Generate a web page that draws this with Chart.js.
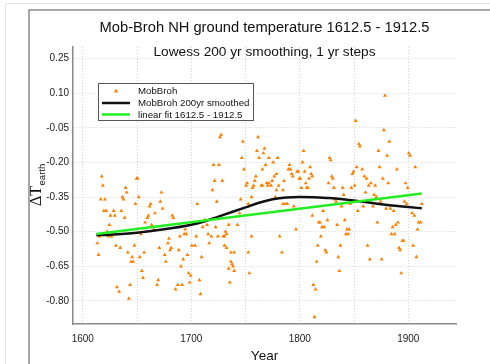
<!DOCTYPE html>
<html><head><meta charset="utf-8">
<script src="https://cdn.jsdelivr.net/npm/chart.js@4.4.1/dist/chart.umd.min.js"></script>
<style>html,body{margin:0;padding:0;background:#fff;}#wrap{width:490px;height:364px;position:relative}</style>
</head><body><div id="wrap"><canvas id="c" width="490" height="364"></canvas></div>
<script>
const years = [1613.5,1614.5,1615.5,1616.5,1617.5,1618.5,1619.5,1620.5,1621.5,1622.5,1623.5,1624.5,1625.5,1626.5,1628.5,1629.5,1630.5,1631.5,1633.5,1634.5,1635.5,1636.5,1637.5,1638.5,1639.5,1640.5,1641.5,1642.5,1643.5,1644.5,1645.5,1646.5,1647.5,1648.5,1649.5,1650.5,1651.5,1652.5,1653.5,1654.5,1655.5,1656.5,1657.5,1659.5,1660.5,1661.5,1662.5,1663.5,1665.5,1666.5,1668.5,1669.5,1670.5,1671.5,1672.5,1673.5,1675.5,1676.5,1678.5,1679.5,1680.5,1681.5,1682.5,1683.5,1685.5,1687.5,1688.5,1689.5,1690.5,1691.5,1692.5,1693.5,1694.5,1695.5,1696.5,1697.5,1698.5,1699.5,1700.5,1703.5,1704.5,1705.5,1707.5,1708.5,1709.5,1710.5,1712.5,1714.5,1715.5,1716.5,
1718.5,1719.5,1720.5,1721.5,1722.5,1723.5,1724.5,1725.5,1726.5,1727.5,1728.5,1729.5,1730.5,1730.5,1731.5,1732.5,1732.5,1734.5,1734.5,1735.5,1736.5,1736.5,1737.5,1738.5,1739.5,1739.5,1742.5,1744.5,1745.5,1746.5,1747.5,1748.5,1750.5,1751.5,1752.5,1752.5,1753.5,1755.5,1755.5,1756.5,1757.5,1758.5,1759.5,1760.5,1761.5,1762.5,1764.5,1765.5,1765.5,1766.5,1767.5,1768.5,1769.5,1770.5,1771.5,1771.5,1773.5,1774.5,1775.5,1776.5,1777.5,1778.5,1778.5,1779.5,1780.5,1781.5,1783.5,1784.5,1784.5,1785.5,1786.5,1788.5,1789.5,1790.5,1791.5,1792.5,1793.5,1794.5,1796.5,1797.5,1798.5,1799.5,1800.5,1801.5,1802.5,1803.5,1804.5,1805.5,1806.5,1807.5,1808.5,1809.5,1810.5,1811.5,1811.5,1812.5,1813.5,1814.5,1815.5,1816.5,1817.5,1818.5,
1819.5,1820.5,1821.5,1822.5,1823.5,1824.5,1825.5,1826.5,1827.5,1828.5,1829.5,1830.5,1831.5,1832.5,1833.5,1834.5,1835.5,1836.5,1837.5,1838.5,1839.5,1840.5,1841.5,1842.5,1843.5,1844.5,1845.5,1846.5,1847.5,1848.5,1849.5,1850.5,1851.5,1852.5,1853.5,1854.5,1855.5,1857.5,1858.5,1859.5,1860.5,1861.5,1862.5,1863.5,1864.5,1865.5,1867.5,1868.5,1869.5,1870.5,1871.5,1872.5,1873.5,1874.5,1875.5,1876.5,1877.5,1878.5,1879.5,1880.5,1881.5,1882.5,1883.5,1884.5,1885.5,1886.5,1887.5,1888.5,1889.5,1890.5,1891.5,1892.5,1893.5,1894.5,1895.5,1896.5,1897.5,1898.5,1899.5,1900.5,1901.5,1903.5,1904.5,1905.5,1906.5,1907.5,1908.5,1909.5,1911.5,1912.5];
const values = [-0.55,-0.60,-0.52,-0.36,-0.26,-0.30,-0.41,-0.36,-0.41,-0.50,-0.52,-0.47,-0.43,-0.52,-0.41,-0.43,-0.56,-0.74,-0.76,-0.57,-0.41,-0.35,-0.36,-0.44,-0.31,-0.33,-0.59,-0.79,-0.73,-0.63,-0.61,-0.63,-0.56,-0.38,-0.27,-0.27,-0.35,-0.61,-0.51,-0.67,-0.70,-0.59,-0.46,-0.44,-0.43,-0.39,-0.38,-0.47,-0.49,-0.42,-0.73,-0.71,-0.57,-0.37,-0.33,-0.40,-0.60,-0.63,-0.55,-0.53,-0.58,-0.57,-0.43,-0.44,-0.75,-0.73,-0.58,-0.52,-0.65,-0.73,-0.62,-0.51,-0.49,-0.51,-0.60,-0.68,-0.72,-0.69,-0.56,-0.56,-0.52,-0.38,-0.71,-0.77,-0.61,-0.48,-0.45,-0.47,-0.51,-0.55,
-0.52,-0.32,-0.21,-0.28,-0.48,-0.37,-0.52,-0.21,-0.09,-0.08,-0.28,-0.52,-0.52,-0.56,-0.50,-0.51,-0.57,-0.47,-0.66,-0.72,-0.63,-0.59,-0.64,-0.65,-0.59,-0.67,-0.47,-0.42,-0.36,-0.18,-0.11,-0.23,-0.30,-0.29,-0.38,-0.59,-0.68,-0.52,-0.35,-0.31,-0.30,-0.28,-0.26,-0.15,-0.09,-0.18,-0.30,-0.30,-0.23,-0.16,-0.14,-0.21,-0.29,-0.30,-0.18,-0.29,-0.30,-0.28,-0.20,-0.26,-0.35,-0.32,-0.25,-0.18,-0.30,-0.52,-0.59,-0.32,-0.38,-0.28,-0.38,-0.38,-0.23,-0.21,-0.23,-0.25,-0.26,-0.39,-0.49,-0.24,-0.24,-0.27,-0.27,-0.31,-0.20,-0.15,-0.24,-0.29,-0.31,-0.31,-0.27,-0.22,-0.25,-0.26,-0.43,-0.73,-0.87,-0.75,-0.63,-0.56,-0.46,-0.46,
-0.52,-0.48,-0.41,-0.48,-0.58,-0.59,-0.45,-0.29,-0.18,-0.19,-0.26,-0.27,-0.31,-0.36,-0.37,-0.47,-0.61,-0.67,-0.56,-0.39,-0.31,-0.34,-0.45,-0.51,-0.49,-0.51,-0.49,-0.38,-0.31,-0.25,-0.24,-0.30,-0.02,-0.22,-0.41,-0.12,-0.13,-0.23,-0.39,-0.26,-0.33,-0.27,-0.56,-0.30,-0.62,-0.29,-0.39,-0.34,-0.30,-0.35,-0.46,-0.15,-0.22,-0.37,-0.62,-0.27,-0.06,0.09,-0.40,-0.17,-0.29,-0.11,-0.40,-0.51,-0.48,-0.41,-0.51,-0.47,-0.23,-0.46,-0.57,-0.58,-0.68,-0.54,-0.54,-0.37,-0.29,-0.38,-0.31,-0.16,-0.17,-0.42,-0.56,-0.43,-0.22,-0.61,-0.49,-0.46,-0.46,-0.38];
const smoothYears = [1612.5,1625,1650,1675,1700,1712.5,1725,1737.5,1750,1762.5,1775,1787.5,1800,1812.5,1825,1837.5,1850,1862.5,1875,1887.5,1900,1912.5];
const smoothValues = [-0.515,-0.513,-0.505,-0.49,-0.47,-0.455,-0.435,-0.415,-0.395,-0.375,-0.36,-0.352,-0.350,-0.351,-0.354,-0.358,-0.365,-0.373,-0.381,-0.388,-0.393,-0.399];
const fitYears = [1612.5, 1912.5];
const fitValues = [-0.51, -0.335];
const xTicks = [1600,1650,1700,1750,1800,1850,1900];
const xLabelTicks = [1600,1700,1800,1900];
const yTicks = [-0.80,-0.65,-0.50,-0.35,-0.20,-0.05,0.10,0.25];
const titleText = 'Mob-Broh NH ground temperature 1612.5 - 1912.5';
const subtitleText = 'Lowess 200 yr smoothing, 1 yr steps';
const seriesLabels = ['MobBroh','MobBroh 200yr smoothed','linear fit 1612.5 - 1912.5'];
const xTitle = 'Year';

const SANS = '"Liberation Sans", Arial, Helvetica, sans-serif';
const ORANGE = '#ff8000', BLACK = '#111111', GREEN = '#22ee22';

const decor = {
  id: 'decor',
  beforeDraw(chart) {
    const ctx = chart.ctx;
    ctx.save();
    ctx.fillStyle = '#fff';
    ctx.fillRect(0, 0, chart.width, chart.height);
    ctx.strokeStyle = '#e4e4e4'; ctx.lineWidth = 1;
    ctx.beginPath(); ctx.moveTo(5.5, 364); ctx.lineTo(5.5, 3.5); ctx.lineTo(490, 3.5); ctx.stroke();
    ctx.strokeStyle = '#8a8a8a'; ctx.lineWidth = 1.5;
    ctx.beginPath(); ctx.moveTo(29, 364); ctx.lineTo(29, 10); ctx.lineTo(490, 10); ctx.stroke();
    ctx.restore();
  },
  afterDraw(chart) {
    const ctx = chart.ctx, a = chart.chartArea;
    const cx = (a.left + a.right) / 2;
    ctx.save();
    ctx.fillStyle = '#111';
    ctx.textAlign = 'center'; ctx.textBaseline = 'middle';
    ctx.font = '14.7px ' + SANS;
    ctx.fillText(titleText, cx, 28);
    ctx.font = '13.7px ' + SANS;
    ctx.fillText(subtitleText, cx, 52);
    ctx.font = '13.5px ' + SANS;
    ctx.fillText(xTitle, cx, 356);
    // y axis label
    ctx.save();
    ctx.translate(41, 206);
    ctx.rotate(-Math.PI / 2);
    ctx.textAlign = 'left'; ctx.textBaseline = 'alphabetic';
    ctx.font = '16px "Liberation Serif", "Times New Roman", serif';
    ctx.fillText('\u0394T', 0, 0);
    const w = ctx.measureText('\u0394T').width;
    ctx.font = '9.5px ' + SANS;
    ctx.fillText('earth', w + 0.5, 3.5);
    ctx.restore();
    // legend
    const lx = 98, ly = 83, lw = 155, lh = 37;
    ctx.fillStyle = '#fff';
    ctx.fillRect(lx, ly, lw, lh);
    ctx.strokeStyle = '#555'; ctx.lineWidth = 1;
    ctx.strokeRect(lx + 0.5, ly + 0.5, lw, lh);
    const ds = chart.data.datasets;
    const rows = [91, 103, 114.5];
    ctx.textAlign = 'left'; ctx.textBaseline = 'middle';
    ctx.font = '9.7px ' + SANS;
    for (let i = 0; i < ds.length; i++) {
      const y = rows[i];
      if (i === 0) {
        ctx.fillStyle = ds[0].backgroundColor;
        ctx.beginPath(); ctx.moveTo(116, y - 2.2); ctx.lineTo(118.2, y + 1.6); ctx.lineTo(113.8, y + 1.6); ctx.closePath(); ctx.fill();
      } else {
        ctx.strokeStyle = ds[i].borderColor; ctx.lineWidth = 2.5;
        ctx.beginPath(); ctx.moveTo(102, y); ctx.lineTo(130, y); ctx.stroke();
      }
      ctx.fillStyle = '#111';
      ctx.fillText(ds[i].label, 138, y + 0.5);
    }
    ctx.restore();
  }
};

new Chart(document.getElementById('c'), {
  type: 'scatter',
  data: {
    datasets: [
      { label: seriesLabels[0], data: years.map((x, i) => ({x, y: values[i]})),
        pointStyle: 'triangle', pointRadius: 2.3, backgroundColor: ORANGE, borderColor: ORANGE, borderWidth: 0, order: 3 },
      { label: seriesLabels[1], type: 'line', data: smoothYears.map((x, i) => ({x, y: smoothValues[i]})),
        borderColor: BLACK, backgroundColor: BLACK, borderWidth: 2.5, pointRadius: 0, cubicInterpolationMode: 'monotone', fill: false, order: 2 },
      { label: seriesLabels[2], type: 'line', data: fitYears.map((x, i) => ({x, y: fitValues[i]})),
        borderColor: GREEN, backgroundColor: GREEN, borderWidth: 2.5, pointRadius: 0, fill: false, order: 1 }
    ]
  },
  options: {
    responsive: false, animation: false, devicePixelRatio: 1,
    layout: { padding: { left: 0, right: 34, top: 47, bottom: 0 } },
    plugins: { legend: { display: false }, tooltip: { enabled: false }, title: { display: false } },
    scales: {
      x: {
        type: 'linear', min: 1591, max: 1944,
        afterBuildTicks: s => { s.ticks = xTicks.map(v => ({ value: v })); },
        afterFit: s => { s.height = 40; },
        ticks: { color: '#222', font: { family: SANS, size: 10 }, padding: 9, maxRotation: 0, autoSkip: false,
          callback: v => xLabelTicks.includes(v) ? String(v) : '' },
        grid: { color: '#d4d4d4', lineWidth: 1, drawTicks: false },
        border: { display: true, color: '#8a8a8a', width: 1.5, dash: [1, 2] }
      },
      y: {
        type: 'linear', min: -0.9, max: 0.3,
        afterBuildTicks: s => { s.ticks = yTicks.map(v => ({ value: v })); },
        afterFit: s => { s.width = 73; },
        ticks: { color: '#222', font: { family: SANS, size: 10 }, padding: 4, autoSkip: false,
          callback: v => Number(v).toFixed(2) },
        grid: { color: '#d4d4d4', lineWidth: 1, drawTicks: false },
        border: { display: true, color: '#8a8a8a', width: 1.5, dash: [1, 2] }
      }
    }
  },
  plugins: [decor]
});
</script></body></html>
